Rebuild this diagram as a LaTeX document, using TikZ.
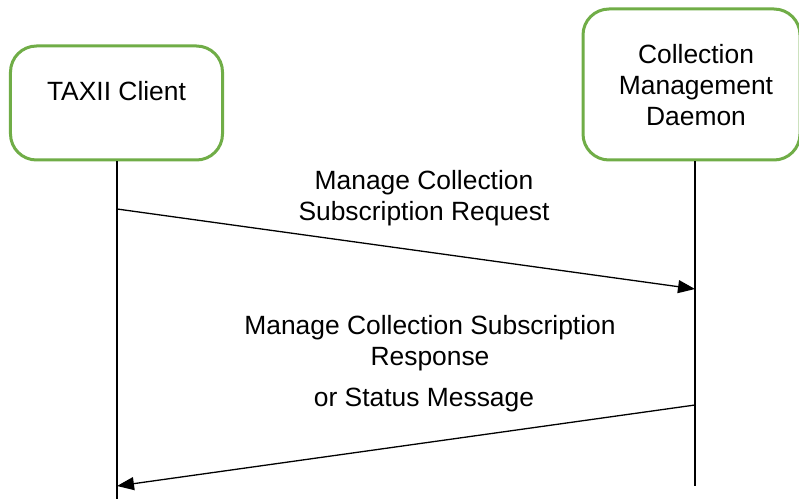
\documentclass[tikz,border=0pt]{standalone}
\usepackage{fontspec}
\setmainfont{Liberation Sans}
\usetikzlibrary{arrows.meta,calc}
\definecolor{boxgreen}{HTML}{70AD47}
\begin{document}
\begin{tikzpicture}[x=1bp,y=-1bp,
  actor/.style={draw=boxgreen,line width=3bp,rounded corners=26bp,fill=white,inner sep=0pt},
  txt/.style={font=\fontsize{26.5}{31}\selectfont,align=center,text=black,inner sep=0pt},
  life/.style={draw=black,line width=1.3bp},
  msg/.style={draw=black,line width=1.3bp,-{Triangle[length=17bp,width=13bp]}}]
\useasboundingbox (0,0) rectangle (799,501);
% actors
\node[actor,minimum width=212bp,minimum height=114bp] (cl) at (116.5,103) {};
\node[txt] (cltxt) at (116.5,91) {TAXII Client};
\node[actor,minimum width=217bp,minimum height=151bp] (cm) at (691.5,84.5) {};
\node[txt] (cmtxt) at (696,85) {Collection\\Management\\Daemon};
% lifelines
\coordinate (clend) at (117,499);
\coordinate (cmend) at (695,486);
\draw[life] (cl.south -| clend) -- (clend);
\draw[life] (cm.south -| cmend) -- (cmend);
% messages
\coordinate (m1s) at (117,209);
\coordinate (m1e) at (695,289);
\coordinate (m2s) at (695,405);
\coordinate (m2e) at (117,486);
\draw[msg] (m1s) -- (m1e);
\draw[msg] (m2s) -- (m2e);
% labels
\node[txt] (l1) at (424,198.5) {Manage Collection\\Subscription Request};
\node[txt] (l2) at (430,343) {Manage Collection Subscription\\Response};
\node[txt] (l3) at (424,400) {or Status Message};
\end{tikzpicture}
\end{document}
